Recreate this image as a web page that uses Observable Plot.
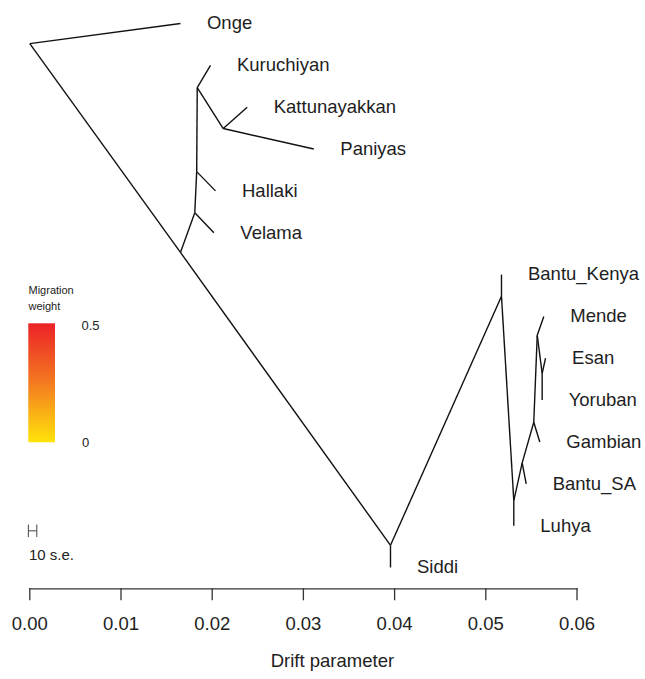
<!DOCTYPE html>
<html>
<head>
<meta charset="utf-8">
<script src="https://cdn.jsdelivr.net/npm/d3@7"></script>
<script src="https://cdn.jsdelivr.net/npm/@observablehq/plot@0.6"></script>
<style>
  html, body { margin: 0; padding: 0; background: #fff; }
  #chart svg { display: block; }
</style>
</head>
<body>
<div id="chart"></div>
<script>
// ---- Data ----
// Tree nodes: id, drift (x), vertical row (0 = top leaf, 13 = bottom leaf)
const nodeIds   = ["root","nAsia","nSiddi","nInd1","nInd2","nInd3","nInd4",
                   "nAfr1","nAfr2","nAfr3","nAfr4","nAfr5","nAfr6",
                   "Onge","Kuruchiyan","Kattunayakkan","Paniyas","Hallaki","Velama",
                   "Bantu_Kenya","Mende","Esan","Yoruban","Gambian","Bantu_SA","Luhya","Siddi"];
const nodeDrift = [0.00000,0.01652,0.03955,0.01809,0.01830,0.01836,0.02121,
                   0.05172,0.05307,0.05399,0.05526,0.05564,0.05618,
                   0.01652,0.01981,0.02384,0.03114,0.02036,0.02018,
                   0.05172,0.05636,0.05655,0.05618,0.05592,0.05443,0.05307,0.03955];
const nodeRow   = [0.48,5.47,12.47,4.52,3.54,1.53,2.51,
                   6.52,11.40,10.50,9.53,7.45,8.36,
                   0,1,2,3,4,5,
                   6,7,8,9,10,11,12,13];
// Edges (parent -> child)
const edgeParent = ["root","root","nAsia","nAsia","nInd1","nInd1","nInd2","nInd2","nInd3","nInd3","nInd4","nInd4",
                    "nSiddi","nSiddi","nAfr1","nAfr1","nAfr2","nAfr2","nAfr3","nAfr3","nAfr4","nAfr4","nAfr5","nAfr5","nAfr6","nAfr6"];
const edgeChild  = ["Onge","nAsia","nSiddi","nInd1","Velama","nInd2","Hallaki","nInd3","Kuruchiyan","nInd4","Kattunayakkan","Paniyas",
                    "Siddi","nAfr1","Bantu_Kenya","nAfr2","Luhya","nAfr3","Bantu_SA","nAfr4","Gambian","nAfr5","Mende","nAfr6","Esan","Yoruban"];
const leafNames  = ["Onge","Kuruchiyan","Kattunayakkan","Paniyas","Hallaki","Velama",
                    "Bantu_Kenya","Mende","Esan","Yoruban","Gambian","Bantu_SA","Luhya","Siddi"];
// Axis ticks
const xTicks = [0, 0.01, 0.02, 0.03, 0.04, 0.05, 0.06];
// Legend
const legendTitle = ["Migration", "weight"];
const legendValues = [0.5, 0];
const legendColors = ["#ffe40a", "#f47a20", "#ec2227"]; // low -> high
const seLabel = "10 s.e.";
const seWidth = 0.00092; // drift width of 10 s.e. bar

// ---- Build tables ----
const node = new Map(nodeIds.map((id, i) => [id, {id, x: nodeDrift[i], y: nodeRow[i]}]));
const edges = edgeParent.map((p, i) => {
  const a = node.get(p), b = node.get(edgeChild[i]);
  return {x1: a.x, y1: a.y, x2: b.x, y2: b.y};
});
const leaves = leafNames.map(n => node.get(n));

const W = 645, H = 679;
const font = "'Liberation Sans', Arial, Helvetica, sans-serif";

const chart = Plot.plot({
  width: W,
  height: H,
  marginLeft: 29.3,
  marginRight: 68.5,
  marginTop: 0,
  marginBottom: 90.7,
  style: {fontFamily: font, fontSize: "18.5px", color: "#222", background: "#fff"},
  x: {domain: [0, 0.06]},
  y: {domain: [0, 13], range: [23, 567], axis: null},
  marks: [
    Plot.link(edges, {x1: "x1", y1: "y1", x2: "x2", y2: "y2", stroke: "#111", strokeWidth: 1.4}),
    Plot.text(leaves, {x: "x", y: "y", text: "id", textAnchor: "start", dx: 26.5, fill: "#1e1e1e", fontSize: 18.5}),
    Plot.frame({anchor: "bottom", stroke: "#333", strokeWidth: 1.3}),
    Plot.axisX({ticks: xTicks, tickFormat: d3.format(".2f"), tickSize: 12, tickPadding: 16,
                fontSize: 18.5, label: null, stroke: "#333", strokeWidth: 1.3, fill: "#222"}),
    Plot.text(["Drift parameter"], {frameAnchor: "bottom", dx: 29, dy: 78, fontSize: 18.5, fill: "#222"})
  ]
});

// ---- Legend and scale bar (decorations inside the plot) ----
const svg = d3.select(chart);
const defs = svg.append("defs");
const grad = defs.append("linearGradient").attr("id", "mwgrad")
  .attr("x1", 0).attr("y1", 1).attr("x2", 0).attr("y2", 0);
legendColors.forEach((c, i) => grad.append("stop")
  .attr("offset", i / (legendColors.length - 1)).attr("stop-color", c));
const g = svg.append("g").attr("font-family", font).attr("fill", "#222").attr("text-anchor", "start");
g.append("text").attr("x", 28.5).attr("y", 294).attr("font-size", 11).text(legendTitle[0]);
g.append("text").attr("x", 28.5).attr("y", 309.5).attr("font-size", 11).text(legendTitle[1]);
g.append("rect").attr("x", 28.3).attr("y", 323.3).attr("width", 26.7).attr("height", 119)
  .attr("fill", "url(#mwgrad)");
g.append("text").attr("x", 81.5).attr("y", 329.8).attr("font-size", 13).text(String(legendValues[0]));
g.append("text").attr("x", 82).attr("y", 446.6).attr("font-size", 13).text(String(legendValues[1]));

const xs = chart.scale("x");
const bx0 = xs.apply(-0.0001), bx1 = xs.apply(-0.0001 + seWidth);
const bar = svg.append("g").attr("stroke", "#555").attr("stroke-width", 1.1).attr("fill", "none");
bar.append("line").attr("x1", bx0).attr("x2", bx1).attr("y1", 530.8).attr("y2", 530.8);
bar.append("line").attr("x1", bx0).attr("x2", bx0).attr("y1", 524.5).attr("y2", 537);
bar.append("line").attr("x1", bx1).attr("x2", bx1).attr("y1", 524.5).attr("y2", 537);
g.append("text").attr("x", 29).attr("y", 559.5).attr("font-size", 15).text(seLabel);

document.getElementById("chart").appendChild(chart);
</script>
</body>
</html>
